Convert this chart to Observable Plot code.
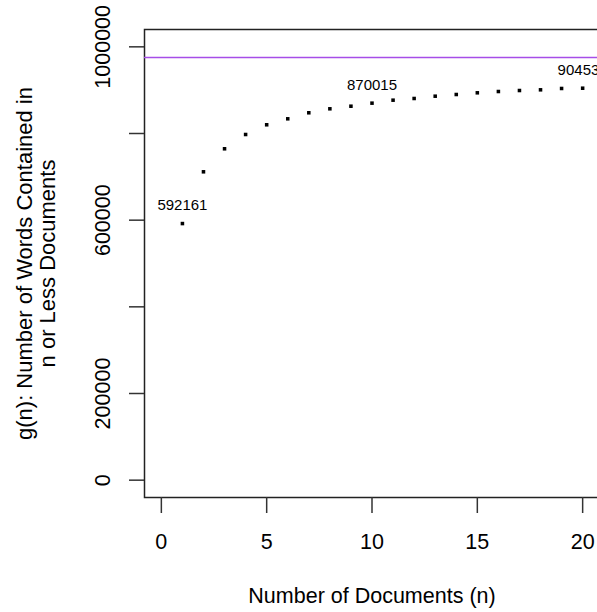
<!DOCTYPE html>
<html>
<head>
<meta charset="utf-8">
<script src="https://cdn.jsdelivr.net/npm/d3@7"></script>
<script src="https://cdn.jsdelivr.net/npm/@observablehq/plot@0.6"></script>
<style>
  html, body { margin: 0; padding: 0; background: #fff; overflow: hidden; }
  svg { overflow: hidden; }
</style>
</head>
<body>
<div id="chart"></div>
<script>
// Data
const docs = [1, 2, 3, 4, 5, 6, 7, 8, 9, 10, 11, 12, 13, 14, 15, 16, 17, 18, 19, 20];
const words = [592161, 711600, 764700, 797700, 820100, 833900, 847800, 857000, 863000, 870015,
               876900, 880800, 886100, 890000, 893900, 896900, 899200, 900800, 903900, 904535];
const labelDocs = [1, 10, 20];
const totalWords = [975400];
const xTicks = [0, 5, 10, 15, 20];
const yTicks = [0, 200000, 400000, 600000, 800000, 1000000];
const yTickLabels = [0, 200000, 600000, 1000000];
const xDomain = [-0.8, 20.8];
const yDomain = [-40000, 1040000];

const points = docs.map((n, i) => ({n, g: words[i]}));
const labeled = points.filter(d => labelDocs.includes(d.n));

const chart = Plot.plot({
  width: 597,
  height: 612,
  marginLeft: 144,
  marginRight: -2,
  marginTop: 29,
  marginBottom: 115,
  style: {fontFamily: "'Liberation Sans', Arial, sans-serif", fontSize: "21px", color: "#000", background: "#fff"},
  x: {domain: xDomain},
  y: {domain: yDomain},
  marks: [
    Plot.frame({stroke: "#222", strokeWidth: 1.5}),
    Plot.axisX(xTicks, {tickSize: 16, tickPadding: 20, label: null, stroke: "#333", strokeWidth: 1.5, fontSize: 21.5}),
    Plot.axisY(yTicks, {tickSize: 15, tickFormat: () => "", label: null, stroke: "#333", strokeWidth: 1.5}),
    Plot.text(yTickLabels, {y: d => d, text: d => String(d), frameAnchor: "left", textAnchor: "middle", dx: -41, rotate: -90, fontSize: 21.5, fill: "#000"}),
    Plot.ruleY(totalWords, {stroke: "#a64ee8", strokeWidth: 1.6}),
    Plot.dot(points, {x: "n", y: "g", symbol: "square", r: 2, fill: "#000", stroke: null}),
    Plot.text(labeled, {x: "n", y: "g", text: d => String(d.g), dy: -18, fontSize: 15, fill: "#000"}),
    Plot.text(["Number of Documents (n)"], {text: d => d, frameAnchor: "bottom", textAnchor: "middle", dy: 105, lineAnchor: "bottom", fontSize: 21.5, fill: "#000"}),
    Plot.text(["g(n): Number of Words Contained in\nn or Less Documents"], {text: d => d, frameAnchor: "left", textAnchor: "middle", dx: -108, rotate: -90, lineAnchor: "middle", lineHeight: 1.02, fontSize: 22, fill: "#000"})
  ]
});
document.getElementById("chart").appendChild(chart);
</script>
</body>
</html>
